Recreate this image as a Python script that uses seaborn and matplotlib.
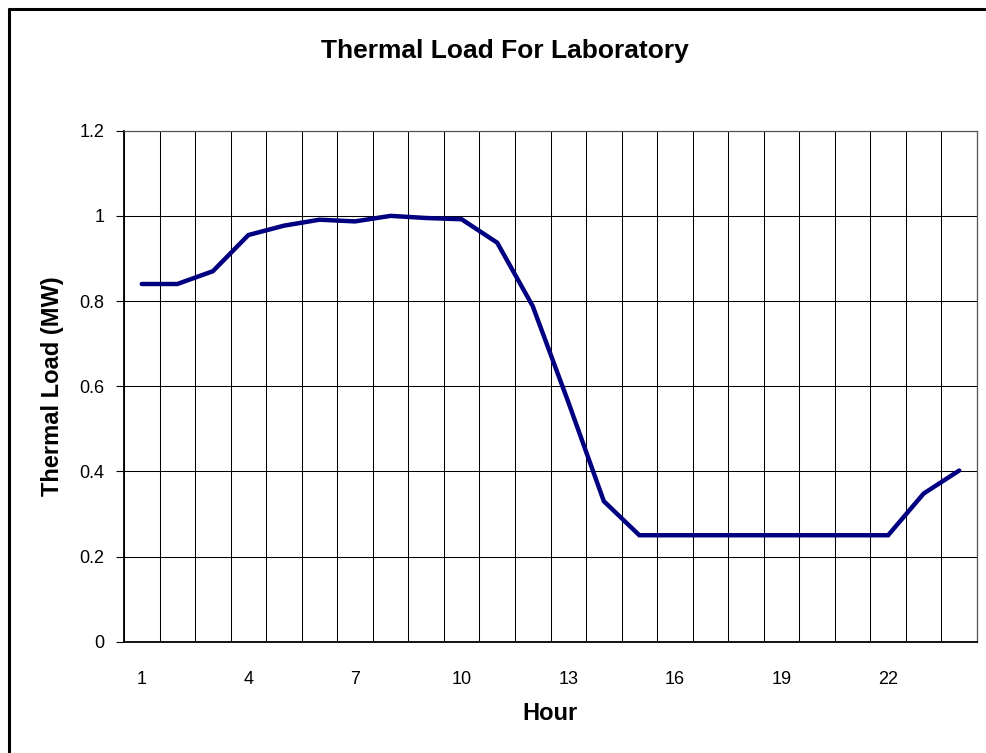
import numpy as np
import pandas as pd
import matplotlib
matplotlib.use("Agg")
import matplotlib.pyplot as plt
from matplotlib.lines import Line2D
import seaborn as sns

# values
hours = list(range(1, 25))
load_mw = [0.84, 0.84, 0.87, 0.955, 0.977, 0.991, 0.987, 1.0, 0.995, 0.992,
           0.937, 0.788, 0.563, 0.33, 0.25, 0.25, 0.25, 0.25, 0.25, 0.25,
           0.25, 0.25, 0.348, 0.402]
x_tick_labels = [1, 4, 7, 10, 13, 16, 19, 22]
y_ticks = [0, 0.2, 0.4, 0.6, 0.8, 1.0, 1.2]

df = pd.DataFrame({"Hour": hours, "Load": load_mw})

sns.set_style("white")
plt.rcParams['font.family'] = ['Liberation Sans', 'DejaVu Sans']
plt.rcParams['text.color'] = 'black'
plt.rcParams['xtick.color'] = 'black'
plt.rcParams['ytick.color'] = 'black'
plt.rcParams['axes.labelcolor'] = 'black'

W, H = 986, 753
fig = plt.figure(figsize=(W / 100, H / 100), dpi=100)
ax = fig.add_axes([124 / W, 1 - 641.7 / H, (977 - 124) / W, (641.7 - 130.7) / H])

sns.lineplot(data=df, x="Hour", y="Load", ax=ax, color="#000080", linewidth=3.2,
             solid_joinstyle="miter")

ax.set_xlim(0.5, 24.5)
ax.set_ylim(0, 1.2)

# category boundaries -> vertical grid + tick marks
bounds = np.arange(0.5, 25, 1.0)
ax.set_xticks(bounds, minor=True)
ax.set_xticks(x_tick_labels)
ax.set_xticklabels([str(v) for v in x_tick_labels], fontsize=13)
ax.tick_params(axis="x", which="major", length=0, pad=21)
ax.tick_params(axis="x", which="minor", length=5, width=0.8, color="black", direction="out")
ax.grid(True, axis="x", which="minor", color="black", linewidth=0.75)

ax.set_yticks(y_ticks)
ax.set_yticklabels(["0", "0.2", "0.4", "0.6", "0.8", "1", "1.2"], fontsize=13)
ax.tick_params(axis="y", which="major", length=6, width=0.8, color="black",
               direction="out", pad=8, left=True)
ax.grid(True, axis="y", which="major", color="black", linewidth=0.75)
ax.set_axisbelow(True)

for s in ["left", "bottom"]:
    ax.spines[s].set_color("black")
    ax.spines[s].set_linewidth(1.3)
for s in ["top", "right"]:
    ax.spines[s].set_color("#555555")
    ax.spines[s].set_linewidth(0.9)

ax.set_xlabel("")
ax.set_ylabel("")
fig.text(505 / W, 1 - 51 / H, "Thermal Load For Laboratory", ha="center", va="center",
         fontsize=19, fontweight="bold")
fig.text(550 / W, 1 - 713.5 / H, "Hour", ha="center", va="center",
         fontsize=17, fontweight="bold")
fig.text(53 / W, 1 - 386 / H, "Thermal Load (MW)", ha="center", va="center",
         rotation=90, fontsize=17, fontweight="bold")

# chart-area border (top and left edges visible)
fig.add_artist(Line2D([9 / W, 1.0], [1 - 9 / H, 1 - 9 / H], color="black", linewidth=2.2))
fig.add_artist(Line2D([9 / W, 9 / W], [1 - 9 / H, 0.0], color="black", linewidth=2.2))

fig.savefig("out.png", dpi=100)
